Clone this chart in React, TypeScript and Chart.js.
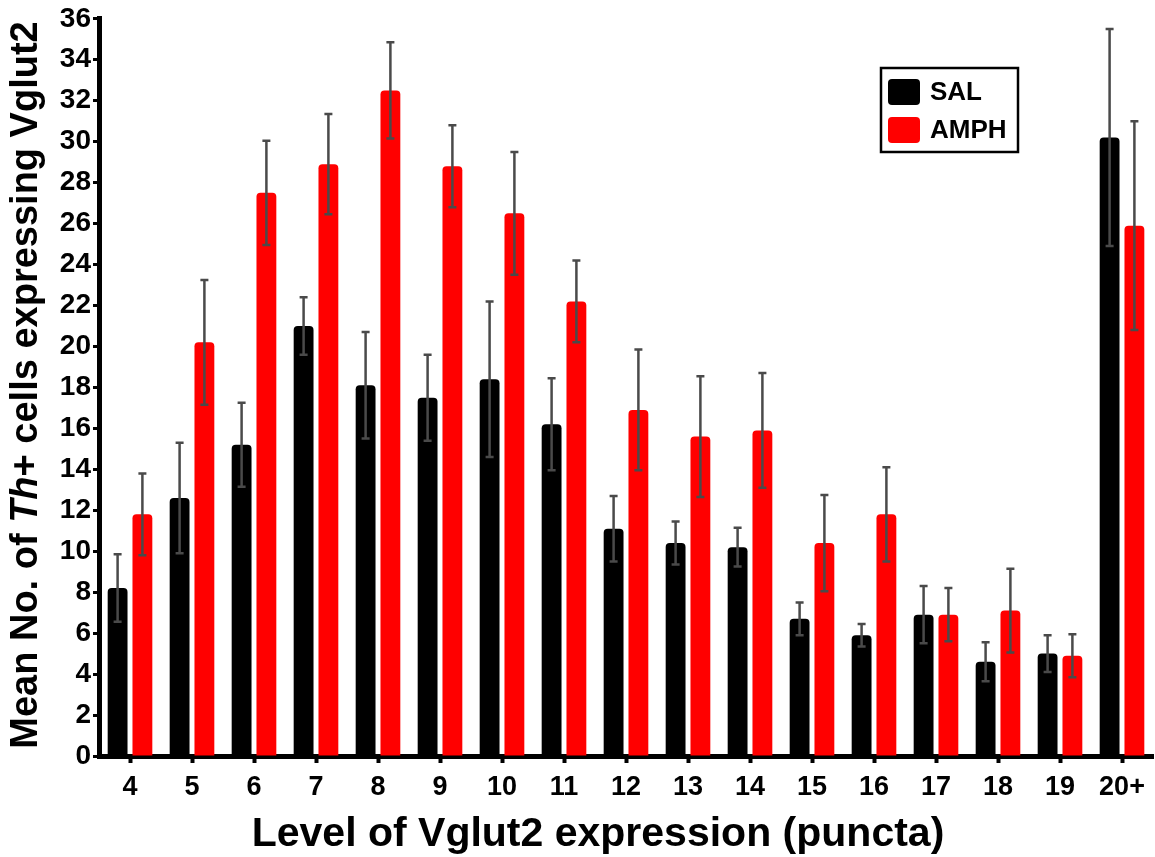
import React, { useEffect, useRef } from "react";
import { Chart, registerables } from "chart.js";

Chart.register(...registerables);

const categories = ["4", "5", "6", "7", "8", "9", "10", "11", "12", "13", "14", "15", "16", "17", "18", "19", "20+"];
const salMeans = [8.2, 12.6, 15.2, 21.0, 18.1, 17.5, 18.4, 16.2, 11.1, 10.4, 10.2, 6.7, 5.9, 6.9, 4.6, 5.0, 30.2];
const salSem = [1.65, 2.7, 2.05, 1.4, 2.6, 2.1, 3.8, 2.25, 1.6, 1.05, 0.95, 0.8, 0.55, 1.4, 0.95, 0.9, 5.3];
const amphMeans = [11.8, 20.2, 27.5, 28.9, 32.5, 28.8, 26.5, 22.2, 16.9, 15.6, 15.9, 10.4, 11.8, 6.9, 7.1, 4.9, 25.9];
const amphSem = [2.0, 3.05, 2.55, 2.45, 2.35, 2.0, 3.0, 2.0, 2.95, 2.95, 2.8, 2.35, 2.3, 1.3, 2.05, 1.05, 5.1];
const seriesNames = ["SAL", "AMPH"];
const seriesColors = ["#000000", "#ff0000"];
const yTitleParts = [
  { text: "Mean No. of ", italic: false },
  { text: "Th", italic: true },
  { text: "+ cells expressing Vglut2", italic: false },
];
const xTitle = "Level of Vglut2 expression (puncta)";

const FONT = "'Liberation Sans', Arial, sans-serif";

const errorBarPlugin = {
  id: "errorBars",
  afterDatasetsDraw(chart: any) {
    const ctx = chart.ctx;
    const y = chart.scales.y;
    const sems = [salSem, amphSem];
    const means = [salMeans, amphMeans];
    ctx.save();
    ctx.strokeStyle = "#4a4a4a";
    ctx.lineWidth = 2.5;
    chart.data.datasets.forEach((_: any, di: number) => {
      const meta = chart.getDatasetMeta(di);
      meta.data.forEach((el: any, i: number) => {
        const x = el.x;
        const top = y.getPixelForValue(means[di][i] + sems[di][i]);
        const bot = y.getPixelForValue(means[di][i] - sems[di][i]);
        ctx.beginPath();
        ctx.moveTo(x, top);
        ctx.lineTo(x, bot);
        ctx.moveTo(x - 4, top);
        ctx.lineTo(x + 4, top);
        ctx.moveTo(x - 4, bot);
        ctx.lineTo(x + 4, bot);
        ctx.stroke();
      });
    });
    ctx.restore();
  },
};

const decorPlugin = {
  id: "decor",
  afterDraw(chart: any) {
    const ctx = chart.ctx;
    ctx.save();
    // Legend
    ctx.strokeStyle = "#000";
    ctx.lineWidth = 2.5;
    ctx.strokeRect(881, 68, 137, 84);
    const rows = [92, 130];
    seriesNames.forEach((name, i) => {
      ctx.fillStyle = seriesColors[i];
      ctx.beginPath();
      (ctx as any).roundRect(888, rows[i] - 13, 32, 26, 4);
      ctx.fill();
      ctx.fillStyle = "#000";
      ctx.font = `bold 26px ${FONT}`;
      ctx.textBaseline = "middle";
      ctx.textAlign = "left";
      ctx.fillText(name, 930, rows[i] + 1);
    });
    // X title
    ctx.fillStyle = "#000";
    ctx.font = `bold 41px ${FONT}`;
    ctx.textAlign = "center";
    ctx.textBaseline = "alphabetic";
    ctx.fillText(xTitle, 598, 846);
    // Y title
    const fontFor = (it: boolean) => `${it ? "italic " : ""}bold 38px ${FONT}`;
    let total = 0;
    const widths = yTitleParts.map((p) => {
      ctx.font = fontFor(p.italic);
      const w = ctx.measureText(p.text).width;
      total += w;
      return w;
    });
    ctx.translate(37, 385);
    ctx.rotate(-Math.PI / 2);
    ctx.textAlign = "left";
    let xPos = -total / 2;
    yTitleParts.forEach((p, i) => {
      ctx.font = fontFor(p.italic);
      ctx.fillText(p.text, xPos, 0);
      xPos += widths[i];
    });
    ctx.restore();
  },
};

export default function App() {
  const ref = useRef<HTMLCanvasElement>(null);
  useEffect(() => {
    if (!ref.current) return;
    const chart = new Chart(ref.current, {
      type: "bar",
      data: {
        labels: categories,
        datasets: [
          {
            label: seriesNames[0],
            data: salMeans,
            backgroundColor: seriesColors[0],
            borderRadius: 4,
            borderSkipped: "bottom",
            categoryPercentage: 0.8,
            barPercentage: 0.8,
          },
          {
            label: seriesNames[1],
            data: amphMeans,
            backgroundColor: seriesColors[1],
            borderRadius: 4,
            borderSkipped: "bottom",
            categoryPercentage: 0.8,
            barPercentage: 0.8,
          },
        ],
      },
      options: {
        responsive: false,
        animation: false,
        layout: { padding: { top: 18, right: 2, left: 0, bottom: 0 } },
        plugins: {
          legend: { display: false },
          tooltip: { enabled: false },
          title: { display: false },
        },
        scales: {
          x: {
            afterFit: (s: any) => {
              s.height = 101;
            },
            grid: {
              offset: false,
              drawOnChartArea: false,
              drawTicks: true,
              tickLength: 7,
              tickWidth: 4,
              tickColor: "#000",
            },
            border: { display: true, width: 5, color: "#000" },
            ticks: {
              color: "#000",
              font: { family: FONT, size: 27, weight: "bold" },
              padding: 8,
              maxRotation: 0,
              autoSkip: false,
            },
          },
          y: {
            min: 0,
            max: 36,
            afterFit: (s: any) => {
              s.width = 99;
            },
            grid: {
              drawOnChartArea: false,
              drawTicks: true,
              tickLength: 6,
              tickWidth: 3,
              tickColor: "#000",
            },
            border: { display: true, width: 5, color: "#000" },
            ticks: {
              stepSize: 2,
              color: "#000",
              font: { family: FONT, size: 28, weight: "bold" },
              padding: 2,
            },
          },
        },
      },
      plugins: [errorBarPlugin, decorPlugin],
    });
    return () => chart.destroy();
  }, []);
  return (
    <div style={{ position: "fixed", left: 0, top: 0, width: 1155, height: 857, background: "#fff" }}>
      <canvas ref={ref} width={1155} height={857} />
    </div>
  );
}
